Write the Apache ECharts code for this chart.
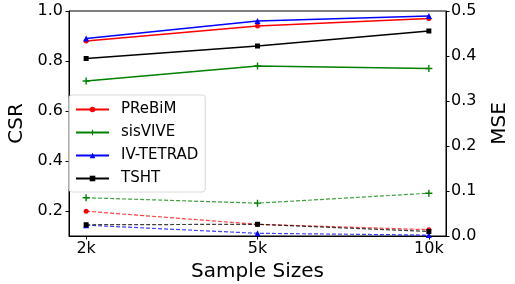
<!DOCTYPE html>
<html>
<head>
<meta charset="utf-8">
<script src="https://cdn.jsdelivr.net/npm/echarts@6/dist/echarts.min.js"></script>
<style>html,body{margin:0;padding:0;background:#fff}#c{width:515px;height:284px}</style>
</head>
<body>
<div id="c"></div>
<script>
const categories = ['2k', '5k', '10k'];
const methods = ['PReBiM', 'sisVIVE', 'IV-TETRAD', 'TSHT'];
const csrPReBiM = [0.88, 0.94, 0.97];
const csrSisVIVE = [0.72, 0.78, 0.77];
const csrIVTetrad = [0.89, 0.96, 0.98];
const csrTSHT = [0.81, 0.86, 0.92];
const msePReBiM = [0.055, 0.026, 0.014];
const mseSisVIVE = [0.085, 0.073, 0.095];
const mseIVTetrad = [0.024, 0.006, 0.002];
const mseTSHT = [0.025, 0.026, 0.010];
const csrTicks = [0.2, 0.4, 0.6, 0.8, 1.0];

const colors = ['#ff0000', '#008000', '#0000ff', '#000000'];
const plusPath = 'path://M4,0h2v4h4v2h-4v4h-2v-4h-4v-2h4z';
const symbols = ['circle', plusPath, 'triangle', 'rect'];
const symSizes = [5, 7, 6, 5];
const csr = [csrPReBiM, csrSisVIVE, csrIVTetrad, csrTSHT];
const mse = [msePReBiM, mseSisVIVE, mseIVTetrad, mseTSHT];
const toPts = arr => arr.map((v, i) => [i, v]);

const series = [];
methods.forEach((m, k) => {
  series.push({
    name: m, type: 'line', yAxisIndex: 0, data: toPts(csr[k]),
    symbol: symbols[k], symbolSize: symSizes[k], showSymbol: true,
    lineStyle: {color: colors[k], width: 1.6},
    itemStyle: {color: colors[k]}, animation: false, z: 3
  });
});
methods.forEach((m, k) => {
  series.push({
    name: m + ' MSE', type: 'line', yAxisIndex: 1, data: toPts(mse[k]),
    symbol: symbols[k], symbolSize: symSizes[k], showSymbol: true,
    lineStyle: {color: colors[k], width: 1.2, type: [4, 2], opacity: 0.75},
    itemStyle: {color: colors[k]}, animation: false, z: 2
  });
});

const font = 'DejaVu Sans';
const chart = echarts.init(document.getElementById('c'), null, {renderer: 'canvas'});
chart.setOption({
  animation: false,
  grid: {left: 69, right: 69, top: 11, bottom: 48, show: true, borderColor: '#000', borderWidth: 1,
    backgroundColor: 'transparent', containLabel: false, outerBoundsMode: 'none'},
  legend: {
    data: methods, orient: 'vertical', left: 69, top: 95,
    itemWidth: 33, itemHeight: 7, itemGap: 8,
    padding: [7, 7, 6, 6],
    backgroundColor: 'rgba(255,255,255,0.8)', borderColor: '#d9d9d9', borderWidth: 1, borderRadius: 3,
    textStyle: {fontFamily: font, fontSize: 15, color: '#000', padding: [0, 0, 0, 7]}
  },
  xAxis: {
    type: 'value', min: -0.1, max: 2.1,
    name: 'Sample Sizes', nameLocation: 'middle', nameGap: 21,
    nameTextStyle: {fontFamily: font, fontSize: 20, color: '#000'},
    axisLine: {show: true, onZero: false, lineStyle: {color: '#000', width: 1}},
    axisTick: {show: true, length: 3.5, lineStyle: {color: '#000'}, customValues: [0, 1, 2]},
    axisLabel: {fontFamily: font, fontSize: 16, color: '#000', margin: 5, customValues: [0, 1, 2],
      formatter: v => categories[Math.round(v)]},
    splitLine: {show: false}
  },
  yAxis: [{
    type: 'value', min: 0.1, max: 1.0, position: 'left',
    name: 'CSR', nameLocation: 'middle', nameGap: 42, nameRotate: 90,
    nameTextStyle: {fontFamily: font, fontSize: 20, color: '#000'},
    axisLine: {show: true, onZero: false, lineStyle: {color: '#000', width: 1}},
    axisTick: {show: true, length: 3.5, lineStyle: {color: '#000'}, customValues: csrTicks},
    axisLabel: {fontFamily: font, fontSize: 16, color: '#000', margin: 6, customValues: csrTicks,
      formatter: v => v.toFixed(1)},
    splitLine: {show: false}
  }, {
    type: 'value', min: 0, max: 0.5, interval: 0.1, position: 'right',
    name: 'MSE', nameLocation: 'middle', nameGap: 44, nameRotate: 90,
    nameTextStyle: {fontFamily: font, fontSize: 20, color: '#000'},
    axisLine: {show: true, onZero: false, lineStyle: {color: '#000', width: 1}},
    axisTick: {show: true, length: 3.5, lineStyle: {color: '#000'}},
    axisLabel: {fontFamily: font, fontSize: 16, color: '#000', margin: 5,
      formatter: v => v.toFixed(1)},
    splitLine: {show: false}
  }],
  series: series
});
</script>
</body>
</html>
